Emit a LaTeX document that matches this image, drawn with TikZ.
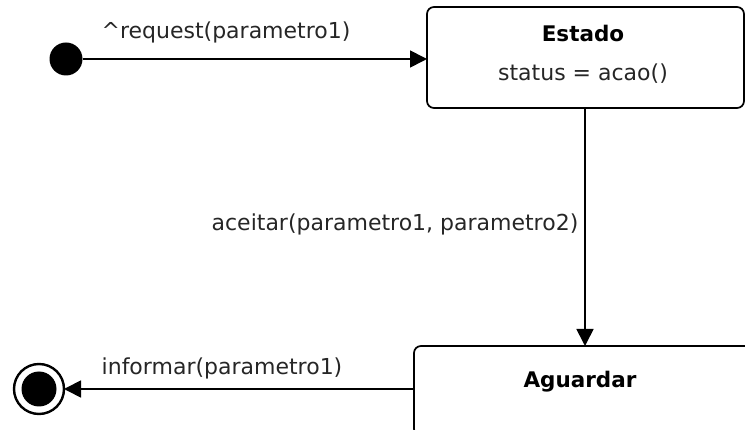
\documentclass[tikz,border=0pt]{standalone}
\usepackage{fontspec}
\setmainfont{DejaVu Sans}
\usetikzlibrary{arrows.meta}
\definecolor{txt}{HTML}{262626}
\begin{document}
\begin{tikzpicture}[x=1pt,y=-1pt,
  every node/.style={inner sep=0pt,outer sep=0pt},
  lbl/.style={font=\fontsize{22}{26}\selectfont,text=txt},
  ttl/.style={font=\fontsize{21.5}{26}\selectfont\bfseries,text=black},
  statebox/.style={draw,line width=1.7pt,rounded corners=7pt,minimum width=#1},
  conn/.style={line width=1.7pt,-{Triangle[length=17pt,width=17pt]}}]
\useasboundingbox (0,0) rectangle (745,430);
\clip (0,0) rectangle (745,430);
% nodes
\node[circle,fill=black,minimum size=33pt] (init) at (66,59) {};
\node[statebox=317pt,minimum height=101pt] (estado) at (585.5,57.5) {};
\node[ttl] (estadoT) at (583,33) {Estado};
\node[lbl] (estadoA) at (583,74) {status = acao()};
\node[statebox=344pt,minimum height=90pt] (aguardar) at (586,391) {};
\node[ttl] (aguardarT) at (580,382) {Aguardar};
\node[circle,draw,line width=2.4pt,minimum size=50pt] (final) at (39,389) {};
\node[circle,fill=black,minimum size=35pt] (finalIn) at (39,389) {};
% connectors
\draw[conn] (init) -- (estado.west |- init);
\draw[conn] (estado.south -| 585,0) -- (aguardar.north -| 585,0);
\draw[conn] (final -| aguardar.west) -- (final);
% labels
\node[lbl] (l1) at (226,32) {\textasciicircum request(parametro1)};
\node[lbl] (l2) at (395,224) {aceitar(parametro1, parametro2)};
\node[lbl] (l3) at (222,368) {informar(parametro1)};
\end{tikzpicture}
\end{document}
